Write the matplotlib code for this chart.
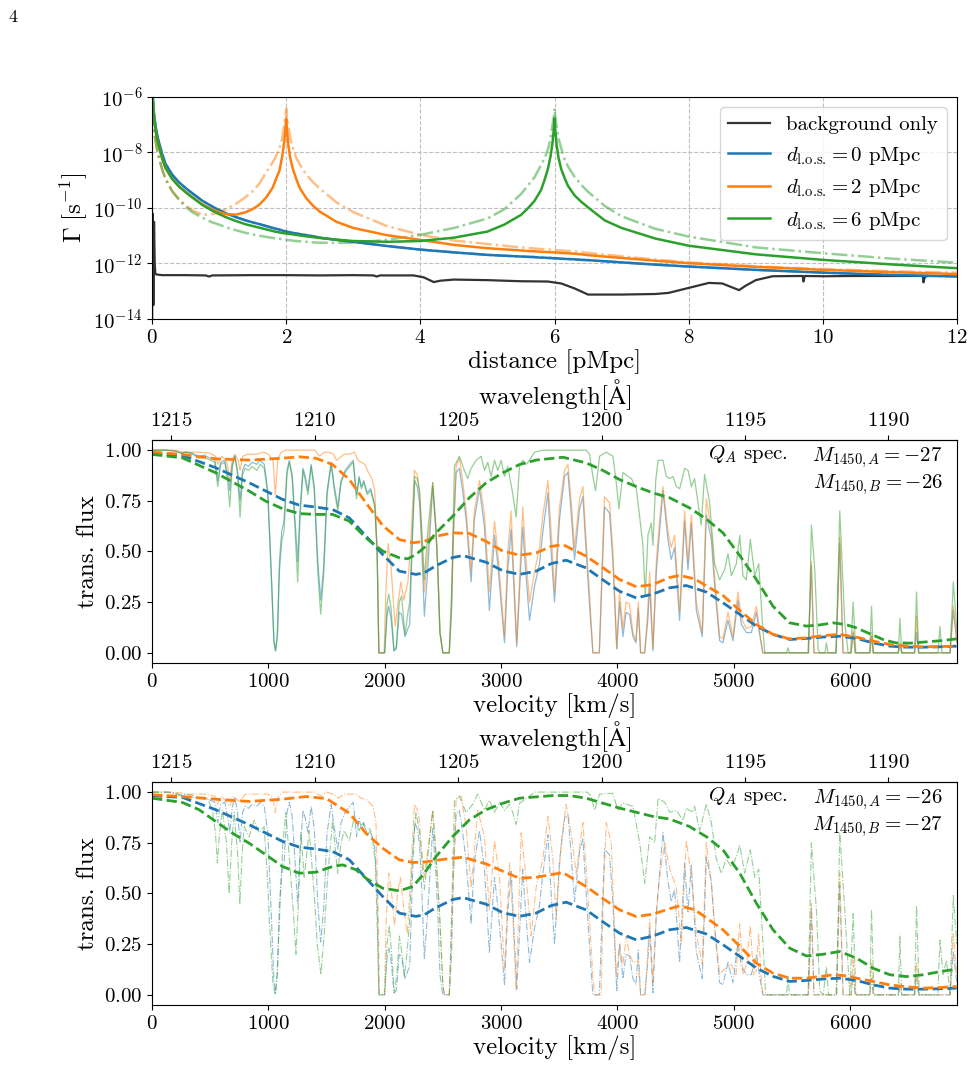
import numpy as np
import matplotlib
matplotlib.use("Agg")
import matplotlib.pyplot as plt
from matplotlib.ticker import NullLocator


# -----------------------------
# Panel 1: photoionisation rate along the sightline (log10 of Gamma)
# -----------------------------
dist = [0.01, 0.02, 0.03, 0.045, 0.06, 0.08, 0.1, 0.15, 0.2, 0.3, 0.4, 0.5, 0.6, 0.75, 0.9,
        1.0, 1.1, 1.25, 1.4, 1.5, 1.6, 1.7, 1.8, 1.85, 1.9, 1.94, 1.97, 1.99, 2.0, 2.01,
        2.03, 2.06, 2.1, 2.15, 2.2, 2.3, 2.4, 2.5, 2.75, 3.0, 3.5, 4.0, 4.5, 5.0, 5.25, 5.5,
        5.6, 5.7, 5.8, 5.85, 5.9, 5.94, 5.97, 5.99, 6.0, 6.01, 6.03, 6.06, 6.1, 6.15, 6.2,
        6.3, 6.4, 6.5, 6.75, 7.0, 7.5, 8.0, 9.0, 10.0, 11.0, 12.0]

log_gamma_d0 = [-5.9, -6.3, -6.6, -6.9, -7.15, -7.4, -7.6, -8.05, -8.4, -8.8, -9.07, -9.28,
                -9.47, -9.74, -9.95, -10.08, -10.19, -10.33, -10.45, -10.52, -10.58, -10.65,
                -10.72, -10.75, -10.78, -10.81, -10.83, -10.84, -10.85, -10.855, -10.865,
                -10.88, -10.9, -10.92, -10.94, -10.98, -11.02, -11.07, -11.15, -11.22, -11.37,
                -11.5, -11.6, -11.69, -11.72, -11.75, -11.76, -11.77, -11.79, -11.79, -11.8,
                -11.8, -11.81, -11.81, -11.81, -11.815, -11.815, -11.82, -11.83, -11.835,
                -11.84, -11.85, -11.87, -11.88, -11.92, -11.96, -12.04, -12.11, -12.23,
                -12.33, -12.41, -12.47]

log_gamma_d2 = [-6.05, -6.45, -6.75, -7.05, -7.3, -7.55, -7.75, -8.2, -8.55, -8.95, -9.22,
                -9.42, -9.61, -9.87, -10.06, -10.15, -10.22, -10.24, -10.15, -10.04, -9.88,
                -9.63, -9.26, -8.95, -8.65, -8.15, -7.65, -7.15, -6.77, -7.15, -7.7, -8.2,
                -8.6, -8.95, -9.27, -9.65, -9.92, -10.13, -10.5, -10.72, -10.98, -11.15,
                -11.33, -11.45, -11.49, -11.53, -11.55, -11.56, -11.58, -11.585, -11.59,
                -11.595, -11.6, -11.6, -11.6, -11.6, -11.605, -11.61, -11.62, -11.625, -11.63,
                -11.65, -11.67, -11.7, -11.75, -11.8, -11.9, -11.99, -12.12, -12.23, -12.31,
                -12.38]

log_gamma_d2_alt = [-6.45, -6.85, -7.15, -7.45, -7.7, -7.95, -8.15, -8.6, -8.95, -9.38, -9.68,
                    -9.9, -10.08, -10.25, -10.22, -10.15, -10.05, -9.85, -9.6, -9.4, -9.12,
                    -8.72, -8.35, -8.12, -7.85, -7.5, -7.0, -6.7, -6.41, -6.7, -7.0, -7.5,
                    -7.85, -8.2, -8.42, -8.8, -9.07, -9.3, -9.8, -10.15, -10.65, -10.97,
                    -11.17, -11.3, -11.36, -11.42, -11.44, -11.46, -11.48, -11.49, -11.5, -11.5,
                    -11.51, -11.51, -11.52, -11.52, -11.52, -11.53, -11.53, -11.54, -11.55,
                    -11.57, -11.59, -11.62, -11.68, -11.74, -11.86, -11.96, -12.1, -12.2,
                    -12.28, -12.33]

log_gamma_d6 = [-6.05, -6.45, -6.75, -7.05, -7.3, -7.55, -7.75, -8.2, -8.55, -8.95, -9.22,
                -9.43, -9.62, -9.89, -10.1, -10.22, -10.33, -10.47, -10.59, -10.65, -10.71,
                -10.77, -10.83, -10.86, -10.88, -10.9, -10.91, -10.92, -10.92, -10.925,
                -10.93, -10.94, -10.95, -10.97, -10.99, -11.02, -11.05, -11.08, -11.14,
                -11.19, -11.22, -11.19, -11.07, -10.85, -10.6, -10.25, -10.02, -9.75, -9.35,
                -9.0, -8.6, -8.15, -7.65, -7.15, -6.77, -7.15, -7.7, -8.2, -8.6, -8.92, -9.2,
                -9.55, -9.78, -9.98, -10.45, -10.72, -11.1, -11.36, -11.67, -11.87, -12.03,
                -12.17]

log_gamma_d6_alt = [-6.45, -6.85, -7.15, -7.45, -7.7, -7.95, -8.15, -8.6, -8.95, -9.4, -9.7,
                    -9.95, -10.15, -10.35, -10.52, -10.6, -10.7, -10.8, -10.9, -10.95, -11.0,
                    -11.04, -11.08, -11.1, -11.11, -11.13, -11.14, -11.14, -11.15, -11.15,
                    -11.155, -11.16, -11.18, -11.19, -11.2, -11.22, -11.24, -11.25, -11.26,
                    -11.25, -11.15, -10.97, -10.72, -10.38, -10.05, -9.5, -9.2, -8.9, -8.45,
                    -8.22, -7.9, -7.5, -7.0, -6.7, -6.41, -6.7, -7.05, -7.5, -7.85, -8.25, -8.5,
                    -8.88, -9.17, -9.42, -9.93, -10.3, -10.75, -11.03, -11.42, -11.63, -11.82,
                    -11.97]

bg_dist = [0.0, 0.01, 0.02, 0.03, 0.04, 0.05, 0.08, 0.15, 0.5, 0.8, 0.85, 0.9, 1.5, 2.0, 2.5,
           3.0, 3.3, 3.35, 3.4, 3.9, 4.05, 4.2, 4.3, 4.5, 5.0, 5.5, 5.9, 6.1, 6.3, 6.5, 7.0,
           7.5, 7.7, 8.0, 8.3, 8.5, 8.75, 8.85, 9.0, 9.25, 9.7, 9.71, 9.73, 10.0, 10.5, 11.0,
           11.49, 11.5, 11.52, 11.55]
log_gamma_bg = [-14.5, -10.2, -13.5, -10.5, -12.0, -12.38, -12.4, -12.42, -12.42, -12.43,
                -12.47, -12.43, -12.42, -12.42, -12.43, -12.42, -12.43, -12.47, -12.43, -12.43,
                -12.5, -12.67, -12.62, -12.58, -12.6, -12.64, -12.65, -12.72, -12.9, -13.12,
                -13.12, -13.1, -13.06, -12.88, -12.7, -12.72, -12.96, -12.8, -12.6, -12.46,
                -12.45, -12.65, -12.45, -12.46, -12.45, -12.45, -12.45, -12.68, -12.48, -12.46]


# -----------------------------
# Panels 2/3: transmitted flux, (velocity [km/s], flux) pairs
# -----------------------------
spec_d0 = [
    (0, 1.0), (120, 1.0), (200, 0.995), (250, 0.985), (290, 0.99), (340, 0.985), (400, 0.97),
    (450, 0.975), (500, 0.96), (540, 0.95), (565, 0.85), (590, 0.94), (625, 0.95), (650, 0.88),
    (668, 0.80), (690, 0.93), (712, 0.97), (735, 0.9), (757, 0.75), (778, 0.9), (800, 0.93),
    (830, 0.92), (860, 0.94), (900, 0.93), (930, 0.95), (965, 0.93), (995, 0.8), (1025, 0.4),
    (1048, 0.06), (1062, 0.01), (1078, 0.1), (1095, 0.45), (1115, 0.6), (1135, 0.65),
    (1160, 0.9), (1180, 0.95), (1205, 0.88), (1230, 0.65), (1252, 0.45), (1272, 0.7),
    (1298, 0.91), (1318, 0.87), (1340, 0.8), (1368, 0.93), (1395, 0.82), (1425, 0.45),
    (1450, 0.26), (1475, 0.42), (1505, 0.8), (1540, 0.94), (1565, 0.83), (1597, 0.72),
    (1625, 0.85), (1660, 0.9), (1700, 0.93), (1730, 0.95), (1758, 0.78), (1780, 0.87),
    (1800, 0.82), (1820, 0.85), (1850, 0.79), (1880, 0.81), (1915, 0.73), (1935, 0.5),
    (1950, 0.0), (2000, 0.0), (2020, 0.18), (2035, 0.23), (2055, 0.17), (2080, 0.01),
    (2100, 0.02), (2125, 0.2), (2145, 0.19), (2175, 0.08), (2200, 0.12), (2215, 0.14),
    (2240, 0.6), (2258, 0.85), (2280, 0.82), (2300, 0.74), (2320, 0.5), (2341, 0.18),
    (2370, 0.41), (2413, 0.82), (2440, 0.6), (2456, 0.41), (2475, 0.1), (2500, 0.0),
    (2555, 0.0), (2575, 0.2), (2590, 0.58), (2614, 0.89), (2642, 0.91), (2670, 0.8),
    (2700, 0.66), (2743, 0.35), (2771, 0.66), (2815, 0.81), (2858, 0.62), (2900, 0.21),
    (2944, 0.58), (2972, 0.44), (3030, 0.05), (3058, 0.41), (3087, 0.61), (3135, 0.03),
    (3187, 0.62), (3210, 0.42), (3245, 0.16), (3288, 0.33), (3331, 0.44), (3360, 0.6),
    (3403, 0.79), (3431, 0.5), (3460, 0.25), (3503, 0.66), (3546, 0.87), (3575, 0.89),
    (3603, 0.69), (3632, 0.46), (3675, 0.71), (3704, 0.77), (3732, 0.5), (3765, 0.2),
    (3790, 0.0), (3845, 0.0), (3870, 0.4), (3890, 0.72), (3933, 0.69), (3962, 0.45),
    (3995, 0.02), (4019, 0.25), (4048, 0.08), (4075, 0.2), (4105, 0.19), (4134, 0.08),
    (4160, 0.05), (4180, 0.22), (4200, 0.0), (4235, 0.0), (4260, 0.15), (4278, 0.33),
    (4306, 0.01), (4335, 0.4), (4363, 0.6), (4392, 0.8), (4435, 0.56), (4463, 0.46),
    (4492, 0.52), (4535, 0.16), (4578, 0.65), (4607, 0.41), (4636, 0.64), (4679, 0.21),
    (4730, 0.08), (4765, 0.68), (4808, 0.56), (4836, 0.33), (4879, 0.06), (4908, 0.05),
    (4951, 0.16), (4994, 0.06), (5037, 0.26), (5066, 0.14), (5109, 0.1), (5152, 0.1),
    (5195, 0.2), (5224, 0.09), (5250, 0.0), (5640, 0.0), (5668, 0.43), (5690, 0.0),
    (5880, 0.0), (5912, 0.54), (5940, 0.0), (6010, 0.0), (6027, 0.1), (6045, 0.0),
    (6170, 0.0), (6185, 0.08), (6200, 0.0), (6415, 0.0), (6429, 0.04), (6445, 0.0),
    (6555, 0.0), (6572, 0.1), (6590, 0.0), (6860, 0.0), (6888, 0.21), (6920, 0.05)]

spec_d2_mid = [
    (0, 1.0), (200, 1.0), (260, 0.99), (400, 0.99), (500, 0.985), (545, 0.97), (565, 0.93),
    (600, 0.97), (640, 0.95), (668, 0.86), (690, 0.95), (712, 0.98), (740, 0.95), (757, 0.9),
    (780, 0.97), (820, 0.98), (900, 0.98), (960, 0.99), (1000, 0.98), (1040, 0.95),
    (1060, 0.78), (1080, 0.95), (1110, 0.99), (1150, 1.0), (1400, 1.0), (1440, 0.97),
    (1480, 0.99), (1520, 0.99), (1560, 0.98), (1585, 0.95), (1610, 0.96), (1650, 0.98),
    (1700, 0.98), (1740, 0.99), (1770, 0.95), (1800, 0.94), (1830, 0.93), (1860, 0.89),
    (1890, 0.86), (1915, 0.8), (1935, 0.5), (1950, 0.0), (1995, 0.0), (2010, 0.3),
    (2030, 0.54), (2055, 0.42), (2090, 0.13), (2115, 0.25), (2140, 0.35), (2165, 0.26),
    (2200, 0.35), (2225, 0.55), (2255, 0.9), (2280, 0.88), (2300, 0.8), (2320, 0.55),
    (2341, 0.3), (2370, 0.5), (2413, 0.84), (2440, 0.62), (2456, 0.45), (2475, 0.1),
    (2500, 0.0), (2555, 0.0), (2575, 0.25), (2595, 0.65), (2614, 0.92), (2642, 0.96),
    (2670, 0.85), (2700, 0.7), (2743, 0.4), (2771, 0.7), (2815, 0.85), (2858, 0.68),
    (2900, 0.3), (2944, 0.65), (2972, 0.5), (3030, 0.08), (3058, 0.5), (3087, 0.7),
    (3135, 0.05), (3187, 0.72), (3210, 0.5), (3245, 0.25), (3288, 0.4), (3331, 0.52),
    (3360, 0.68), (3403, 0.85), (3431, 0.6), (3460, 0.3), (3503, 0.72), (3546, 0.9),
    (3575, 0.93), (3603, 0.75), (3632, 0.52), (3675, 0.76), (3704, 0.82), (3732, 0.55),
    (3765, 0.25), (3790, 0.0), (3845, 0.0), (3870, 0.45), (3890, 0.77), (3933, 0.74),
    (3962, 0.5), (3995, 0.02), (4019, 0.3), (4048, 0.12), (4075, 0.25), (4105, 0.24),
    (4134, 0.1), (4160, 0.06), (4180, 0.25), (4200, 0.0), (4235, 0.0), (4260, 0.2),
    (4278, 0.4), (4306, 0.02), (4335, 0.45), (4363, 0.65), (4392, 0.82), (4435, 0.6),
    (4463, 0.52), (4492, 0.58), (4535, 0.2), (4578, 0.7), (4607, 0.45), (4636, 0.68),
    (4679, 0.25), (4730, 0.1), (4765, 0.76), (4808, 0.6), (4836, 0.38), (4879, 0.08),
    (4908, 0.07), (4951, 0.2), (4994, 0.08), (5037, 0.3), (5066, 0.17), (5109, 0.12),
    (5152, 0.13), (5195, 0.23), (5224, 0.1), (5250, 0.0), (5640, 0.0), (5668, 0.45),
    (5690, 0.0), (5880, 0.0), (5912, 0.57), (5940, 0.0), (6010, 0.0), (6027, 0.11),
    (6045, 0.0), (6170, 0.0), (6185, 0.1), (6200, 0.0), (6415, 0.0), (6429, 0.05),
    (6445, 0.0), (6555, 0.0), (6572, 0.18), (6590, 0.0), (6860, 0.0), (6888, 0.23),
    (6920, 0.05)]

spec_d6_mid = [
    (0, 1.0), (120, 1.0), (200, 0.995), (250, 0.985), (290, 0.99), (340, 0.985), (400, 0.96),
    (450, 0.965), (500, 0.95), (540, 0.94), (565, 0.82), (590, 0.93), (625, 0.94), (650, 0.85),
    (668, 0.72), (690, 0.92), (712, 0.97), (735, 0.88), (757, 0.67), (778, 0.88), (800, 0.91),
    (830, 0.9), (860, 0.92), (900, 0.9), (930, 0.93), (965, 0.91), (995, 0.78), (1025, 0.38),
    (1048, 0.05), (1062, 0.01), (1078, 0.08), (1095, 0.4), (1115, 0.55), (1135, 0.6),
    (1160, 0.88), (1180, 0.94), (1205, 0.86), (1230, 0.6), (1252, 0.35), (1272, 0.66),
    (1298, 0.9), (1318, 0.85), (1340, 0.78), (1368, 0.92), (1395, 0.8), (1425, 0.4),
    (1450, 0.19), (1475, 0.38), (1505, 0.78), (1540, 0.93), (1565, 0.81), (1597, 0.7),
    (1625, 0.84), (1660, 0.89), (1700, 0.92), (1730, 0.94), (1758, 0.76), (1780, 0.86),
    (1800, 0.81), (1820, 0.84), (1850, 0.78), (1880, 0.8), (1915, 0.72), (1935, 0.5),
    (1950, 0.0), (2000, 0.0), (2020, 0.24), (2035, 0.29), (2055, 0.22), (2080, 0.01),
    (2100, 0.03), (2125, 0.25), (2145, 0.28), (2175, 0.09), (2200, 0.2), (2215, 0.25),
    (2240, 0.62), (2258, 0.87), (2280, 0.86), (2300, 0.79), (2320, 0.6), (2341, 0.36),
    (2370, 0.6), (2413, 0.84), (2440, 0.62), (2456, 0.42), (2475, 0.1), (2500, 0.0),
    (2555, 0.0), (2575, 0.3), (2600, 0.92), (2642, 0.97), (2685, 0.9), (2714, 0.86),
    (2743, 0.91), (2786, 0.95), (2829, 0.97), (2858, 0.9), (2886, 0.94), (2915, 0.87),
    (2944, 0.95), (2972, 0.9), (3001, 0.95), (3030, 0.87), (3058, 0.92), (3096, 0.8),
    (3130, 0.67), (3159, 0.92), (3187, 0.95), (3216, 0.93), (3245, 0.95), (3288, 0.99),
    (3360, 1.0), (3732, 1.0), (3761, 0.98), (3790, 0.87), (3813, 0.8), (3847, 0.97),
    (3905, 0.99), (3962, 0.97), (3991, 0.84), (4014, 0.71), (4048, 0.89), (4091, 0.87),
    (4120, 0.86), (4163, 0.81), (4192, 0.67), (4220, 0.53), (4240, 0.28), (4263, 0.58),
    (4292, 0.64), (4306, 0.53), (4330, 0.85), (4350, 0.95), (4392, 0.95), (4421, 0.87),
    (4450, 0.86), (4478, 0.87), (4507, 0.82), (4536, 0.81), (4579, 0.91), (4608, 0.9),
    (4637, 0.82), (4664, 0.86), (4693, 0.74), (4721, 0.63), (4750, 0.88), (4793, 0.74),
    (4836, 0.44), (4879, 0.36), (4922, 0.41), (4951, 0.49), (4980, 0.38), (5023, 0.44),
    (5052, 0.58), (5080, 0.38), (5109, 0.36), (5143, 0.56), (5181, 0.38), (5215, 0.44),
    (5247, 0.15), (5267, 0.0), (5455, 0.0), (5467, 0.025), (5480, 0.0), (5645, 0.0),
    (5668, 0.63), (5697, 0.41), (5726, 0.02), (5740, 0.0), (5785, 0.0), (5797, 0.05),
    (5810, 0.0), (5880, 0.0), (5912, 0.7), (5955, 0.15), (5984, 0.0), (6005, 0.0),
    (6027, 0.25), (6050, 0.0), (6170, 0.0), (6185, 0.23), (6200, 0.0), (6415, 0.0),
    (6429, 0.17), (6445, 0.0), (6555, 0.0), (6572, 0.3), (6590, 0.0), (6755, 0.0),
    (6773, 0.13), (6790, 0.0), (6860, 0.0), (6888, 0.35), (6920, 0.1)]

spec_d2_bot = [
    (0, 1.0), (200, 1.0), (300, 0.99), (450, 0.99), (540, 0.98), (562, 0.94), (600, 0.98),
    (668, 0.93), (700, 0.98), (757, 0.95), (800, 0.99), (1000, 0.99), (1040, 0.97),
    (1059, 0.9), (1080, 0.97), (1120, 1.0), (1400, 1.0), (1450, 0.98), (1500, 1.0),
    (1560, 0.99), (1600, 0.97), (1650, 0.99), (1750, 0.99), (1800, 0.97), (1850, 0.96),
    (1900, 0.93), (1925, 0.85), (1945, 0.4), (1955, 0.0), (1997, 0.0), (2015, 0.4),
    (2035, 0.6), (2060, 0.5), (2085, 0.34), (2110, 0.5), (2135, 0.58), (2165, 0.42),
    (2195, 0.3), (2225, 0.6), (2255, 0.94), (2290, 0.9), (2341, 0.58), (2413, 0.91),
    (2440, 0.7), (2470, 0.42), (2500, 0.05), (2513, 0.0), (2556, 0.0), (2580, 0.4),
    (2614, 0.96), (2657, 0.98), (2700, 0.83), (2743, 0.53), (2800, 0.91), (2858, 0.78),
    (2900, 0.42), (2944, 0.76), (2987, 0.58), (3030, 0.12), (3073, 0.65), (3100, 0.4),
    (3130, 0.02), (3173, 0.8), (3216, 0.58), (3259, 0.29), (3302, 0.53), (3360, 0.67),
    (3403, 0.88), (3446, 0.67), (3474, 0.37), (3517, 0.75), (3560, 0.94), (3603, 0.8),
    (3646, 0.6), (3704, 0.85), (3747, 0.5), (3790, 0.09), (3805, 0.0), (3860, 0.0),
    (3880, 0.5), (3905, 0.85), (3948, 0.75), (3991, 0.09), (4019, 0.25), (4048, 0.15),
    (4077, 0.29), (4105, 0.2), (4134, 0.16), (4177, 0.17), (4200, 0.0), (4240, 0.0),
    (4260, 0.2), (4278, 0.37), (4306, 0.06), (4335, 0.4), (4363, 0.58), (4407, 0.75),
    (4450, 0.62), (4507, 0.53), (4550, 0.25), (4593, 0.76), (4637, 0.58), (4680, 0.3),
    (4730, 0.15), (4765, 0.75), (4808, 0.55), (4836, 0.34), (4880, 0.1), (4908, 0.12),
    (4980, 0.15), (5020, 0.1), (5052, 0.35), (5080, 0.1), (5110, 0.15), (5143, 0.34),
    (5170, 0.1), (5195, 0.12), (5215, 0.3), (5240, 0.05), (5255, 0.0), (5645, 0.0),
    (5668, 0.45), (5690, 0.0), (5885, 0.0), (5912, 0.6), (5940, 0.0), (6010, 0.0),
    (6027, 0.19), (6045, 0.0), (6170, 0.0), (6185, 0.16), (6200, 0.0), (6415, 0.0),
    (6429, 0.06), (6445, 0.0), (6555, 0.0), (6572, 0.16), (6590, 0.0), (6860, 0.0),
    (6888, 0.3), (6920, 0.08)]

spec_d6_bot = [
    (0, 1.0), (150, 1.0), (260, 0.98), (400, 0.97), (480, 0.965), (519, 0.91), (545, 0.8),
    (562, 0.65), (580, 0.8), (605, 0.91), (640, 0.75), (663, 0.5), (685, 0.75), (706, 0.9),
    (735, 0.7), (755, 0.45), (775, 0.7), (792, 0.83), (835, 0.78), (878, 0.86), (921, 0.8),
    (964, 0.83), (990, 0.6), (1010, 0.35), (1040, 0.05), (1059, 0.0), (1075, 0.1),
    (1099, 0.42), (1125, 0.75), (1150, 0.9), (1193, 0.58), (1215, 0.4), (1237, 0.2),
    (1258, 0.45), (1280, 0.8), (1308, 0.58), (1351, 0.81), (1394, 0.5), (1420, 0.25),
    (1452, 0.1), (1480, 0.3), (1509, 0.58), (1552, 0.86), (1595, 0.6), (1625, 0.75),
    (1652, 0.81), (1696, 0.76), (1739, 0.88), (1781, 0.81), (1810, 0.85), (1839, 0.81),
    (1870, 0.82), (1897, 0.76), (1920, 0.65), (1940, 0.25), (1950, 0.0), (2000, 0.0),
    (2020, 0.25), (2040, 0.34), (2060, 0.2), (2083, 0.01), (2105, 0.1), (2126, 0.29),
    (2150, 0.2), (2169, 0.09), (2190, 0.2), (2212, 0.34), (2240, 0.7), (2269, 0.9),
    (2300, 0.8), (2341, 0.52), (2413, 0.91), (2440, 0.7), (2470, 0.42), (2500, 0.05),
    (2513, 0.0), (2556, 0.0), (2580, 0.5), (2600, 0.96), (2642, 0.98), (2700, 0.9),
    (2757, 0.94), (2800, 0.99), (2858, 0.91), (2900, 0.96), (2944, 0.9), (2987, 0.95),
    (3030, 0.91), (3073, 0.94), (3101, 0.9), (3130, 0.84), (3159, 0.945), (3245, 0.98),
    (3290, 1.0), (3740, 1.0), (3776, 0.98), (3804, 0.91), (3847, 0.99), (3960, 0.995),
    (4005, 0.91), (4048, 0.945), (4134, 0.93), (4192, 0.75), (4235, 0.55), (4278, 0.78),
    (4321, 0.75), (4350, 0.97), (4407, 0.95), (4450, 0.9), (4507, 0.91), (4564, 0.86),
    (4593, 0.92), (4650, 0.9), (4664, 0.93), (4707, 0.81), (4765, 0.94), (4808, 0.85),
    (4851, 0.67), (4894, 0.6), (4937, 0.67), (4980, 0.63), (5023, 0.68), (5052, 0.74),
    (5094, 0.6), (5143, 0.715), (5181, 0.58), (5215, 0.62), (5252, 0.255), (5275, 0.0),
    (5455, 0.0), (5467, 0.09), (5480, 0.0), (5640, 0.0), (5668, 0.75), (5711, 0.42),
    (5740, 0.02), (5770, 0.0), (5797, 0.14), (5815, 0.0), (5885, 0.0), (5912, 0.8),
    (5955, 0.42), (5998, 0.0), (6027, 0.4), (6050, 0.0), (6170, 0.0), (6185, 0.42),
    (6205, 0.0), (6415, 0.0), (6429, 0.29), (6445, 0.0), (6555, 0.0), (6572, 0.44),
    (6595, 0.0), (6755, 0.0), (6773, 0.27), (6800, 0.1), (6830, 0.17), (6860, 0.0),
    (6888, 0.49), (6917, 0.25)]

# smoothed spectra (thick dashed)
smooth_d0 = [
    (0, 0.982), (261, 0.974), (548, 0.913), (835, 0.839), (1122, 0.757), (1265, 0.729),
    (1409, 0.719), (1552, 0.707), (1696, 0.666), (1839, 0.576), (1983, 0.485), (2126, 0.403),
    (2269, 0.387), (2341, 0.395), (2441, 0.43), (2585, 0.47), (2671, 0.48), (2872, 0.447),
    (3015, 0.405), (3159, 0.387), (3302, 0.403), (3430, 0.44), (3560, 0.457), (3732, 0.419),
    (3876, 0.36), (4019, 0.304), (4163, 0.271), (4306, 0.29), (4450, 0.321), (4593, 0.332),
    (4765, 0.3), (4908, 0.247), (5052, 0.19), (5195, 0.132), (5338, 0.091), (5482, 0.066),
    (5625, 0.071), (5768, 0.078), (5912, 0.082), (6056, 0.071), (6199, 0.049), (6343, 0.033),
    (6486, 0.028), (6630, 0.028), (6780, 0.03), (6917, 0.033)]

smooth_d2_mid = [
    (0, 0.99), (261, 0.979), (548, 0.957), (835, 0.951), (1122, 0.96), (1265, 0.967),
    (1409, 0.96), (1552, 0.929), (1696, 0.855), (1839, 0.74), (1983, 0.628), (2126, 0.559),
    (2241, 0.543), (2341, 0.55), (2441, 0.575), (2585, 0.592), (2728, 0.589), (2872, 0.55),
    (3015, 0.502), (3159, 0.482), (3302, 0.493), (3430, 0.525), (3532, 0.534), (3732, 0.477),
    (3876, 0.42), (4019, 0.362), (4163, 0.326), (4306, 0.337), (4450, 0.372), (4536, 0.382),
    (4665, 0.365), (4765, 0.33), (4908, 0.283), (5052, 0.21), (5195, 0.14), (5338, 0.091),
    (5482, 0.069), (5625, 0.074), (5768, 0.085), (5912, 0.091), (6056, 0.077), (6199, 0.058),
    (6343, 0.041), (6486, 0.033), (6630, 0.03), (6780, 0.031), (6917, 0.033)]

smooth_d6_mid = [
    (0, 0.979), (261, 0.962), (548, 0.888), (835, 0.798), (978, 0.748), (1122, 0.711),
    (1265, 0.687), (1409, 0.683), (1552, 0.683), (1696, 0.65), (1839, 0.567), (1983, 0.502),
    (2126, 0.469), (2198, 0.464), (2269, 0.485), (2341, 0.52), (2441, 0.592), (2585, 0.674),
    (2728, 0.765), (2872, 0.839), (3015, 0.888), (3159, 0.929), (3302, 0.951), (3532, 0.965),
    (3732, 0.937), (3876, 0.9), (4019, 0.855), (4163, 0.82), (4306, 0.789), (4450, 0.765),
    (4621, 0.715), (4765, 0.66), (4908, 0.592), (5052, 0.48), (5195, 0.362), (5338, 0.23),
    (5482, 0.148), (5625, 0.132), (5740, 0.138), (5855, 0.148), (5960, 0.14), (6056, 0.123),
    (6199, 0.087), (6300, 0.062), (6400, 0.049), (6520, 0.048), (6630, 0.053), (6780, 0.06),
    (6917, 0.069)]

smooth_d2_bot = [
    (0, 0.987), (261, 0.978), (548, 0.965), (835, 0.954), (1122, 0.965), (1323, 0.978),
    (1500, 0.968), (1696, 0.896), (1839, 0.797), (1983, 0.723), (2126, 0.666), (2241, 0.653),
    (2341, 0.655), (2500, 0.668), (2671, 0.679), (2872, 0.646), (3015, 0.61), (3159, 0.575),
    (3302, 0.58), (3532, 0.603), (3732, 0.534), (3876, 0.475), (4019, 0.419), (4163, 0.386),
    (4306, 0.398), (4450, 0.425), (4536, 0.439), (4665, 0.42), (4765, 0.38), (4908, 0.321),
    (5052, 0.24), (5195, 0.156), (5338, 0.107), (5482, 0.082), (5625, 0.082), (5768, 0.092),
    (5855, 0.099), (5960, 0.094), (6056, 0.082), (6199, 0.066), (6343, 0.049), (6486, 0.04),
    (6630, 0.033), (6780, 0.036), (6917, 0.041)]

smooth_d6_bot = [
    (0, 0.97), (261, 0.949), (405, 0.913), (548, 0.855), (692, 0.797), (835, 0.748),
    (978, 0.691), (1122, 0.633), (1265, 0.6), (1409, 0.605), (1552, 0.633), (1638, 0.641),
    (1753, 0.617), (1839, 0.575), (1983, 0.526), (2126, 0.513), (2241, 0.534), (2341, 0.6),
    (2441, 0.682), (2585, 0.781), (2728, 0.863), (2872, 0.913), (3015, 0.945), (3159, 0.97),
    (3446, 0.983), (3589, 0.983), (3732, 0.97), (4019, 0.921), (4306, 0.88), (4450, 0.867),
    (4621, 0.83), (4765, 0.78), (4908, 0.715), (5052, 0.6), (5195, 0.452), (5338, 0.321),
    (5482, 0.23), (5625, 0.192), (5768, 0.2), (5912, 0.214), (6056, 0.181), (6199, 0.131),
    (6343, 0.099), (6486, 0.09), (6630, 0.099), (6780, 0.115), (6917, 0.127)]

legend_labels = ["background only",
                 r"$d_{\text{l.o.s.}} = 0$ pMpc",
                 r"$d_{\text{l.o.s.}} = 2$ pMpc",
                 r"$d_{\text{l.o.s.}} = 6$ pMpc"]
panel_mags = [(-27, -26), (-26, -27)]
wave_ticks = [1215, 1210, 1205, 1200, 1195, 1190]

V_MAX = 6920.0
LYA = 1215.67
C_KMS = 299792.458


def v2lam(v):
    return LYA * (1.0 - np.asarray(v, dtype=float) / C_KMS)


def lam2v(lam):
    return C_KMS * (1.0 - np.asarray(lam, dtype=float) / LYA)


def xy(pairs):
    a = np.array(pairs, dtype=float)
    return a[:, 0], a[:, 1]


# -----------------------------
# Style
# -----------------------------
plt.rcParams.update({
    "font.family": "serif",
    "font.serif": ["cmr10"],
    "mathtext.fontset": "cm",
    "axes.formatter.use_mathtext": True,
    "font.size": 15,
})

C_BLUE, C_ORANGE, C_GREEN = "#1f77b4", "#ff7f0e", "#2ca02c"
LABEL_FS = 18
TICK_FS = 15

fig = plt.figure(figsize=(9.72, 10.69), dpi=100)
fig.text(8 / 972, 1 - 17 / 1069, "4", fontsize=13, va="center", ha="left")

# -----------------------------
# Chart 1: Gamma vs distance
# -----------------------------
ax1 = fig.add_axes([0.1564, 0.7016, 0.8282, 0.2077])
d = np.array(dist)
ax1.plot(bg_dist, 10 ** np.array(log_gamma_bg), color="#333333", lw=1.6, label=legend_labels[0])
ax1.plot(d, 10 ** np.array(log_gamma_d0), color=C_BLUE, lw=1.8, ls="-.", alpha=0.5)
ax1.plot(d, 10 ** np.array(log_gamma_d2_alt), color=C_ORANGE, lw=1.8, ls="-.", alpha=0.5)
ax1.plot(d, 10 ** np.array(log_gamma_d6_alt), color=C_GREEN, lw=1.8, ls="-.", alpha=0.5)
ax1.plot(d, 10 ** np.array(log_gamma_d0), color=C_BLUE, lw=1.8, label=legend_labels[1])
ax1.plot(d, 10 ** np.array(log_gamma_d2), color=C_ORANGE, lw=1.8, label=legend_labels[2])
ax1.plot(d, 10 ** np.array(log_gamma_d6), color=C_GREEN, lw=1.8, label=legend_labels[3])
ax1.set_yscale("log")
ax1.set_xlim(0, 12)
ax1.set_ylim(1e-14, 1e-6)
ax1.set_yticks([1e-14, 1e-12, 1e-10, 1e-8, 1e-6])
ax1.yaxis.set_minor_locator(NullLocator())
ax1.set_xticks([0, 2, 4, 6, 8, 10, 12])
ax1.tick_params(labelsize=TICK_FS)
ax1.grid(True, ls="--", color="0.75", lw=0.8)
ax1.set_xlabel("distance [pMpc]", fontsize=LABEL_FS, labelpad=2)
ax1.set_ylabel(r"$\Gamma\ [{\rm s}^{-1}]$", fontsize=LABEL_FS, labelpad=2)
ax1.legend(loc="upper right", fontsize=TICK_FS, handlelength=2.0)

# -----------------------------
# Charts 2 and 3: transmitted flux
# -----------------------------
panels = [
    (0.3798, spec_d2_mid, spec_d6_mid, smooth_d2_mid, smooth_d6_mid, "-", 0.9),
    (0.0599, spec_d2_bot, spec_d6_bot, smooth_d2_bot, smooth_d6_bot, "-.", 0.8),
]
for (bottom, s2, s6, m2, m6, ls, lw), mags in zip(panels, panel_mags):
    ax = fig.add_axes([0.1564, bottom, 0.8282, 0.2086])
    for spec, col in [(spec_d0, C_BLUE), (s2, C_ORANGE), (s6, C_GREEN)]:
        v, f = xy(spec)
        ax.plot(v, f, color=col, lw=lw, ls=ls, alpha=0.5)
    for spec, col in [(smooth_d0, C_BLUE), (m2, C_ORANGE), (m6, C_GREEN)]:
        v, f = xy(spec)
        ax.plot(v, f, color=col, lw=2.0, ls="--")
    ax.set_xlim(0, V_MAX)
    ax.set_ylim(-0.05, 1.05)
    ax.set_yticks([0.0, 0.25, 0.5, 0.75, 1.0])
    ax.set_xticks([0, 1000, 2000, 3000, 4000, 5000, 6000])
    ax.tick_params(labelsize=TICK_FS)
    ax.set_xlabel("velocity [km/s]", fontsize=LABEL_FS, labelpad=2)
    ax.set_ylabel("trans. flux", fontsize=LABEL_FS, labelpad=4)

    top = ax.secondary_xaxis("top", functions=(v2lam, lam2v))
    top.set_xticks(wave_ticks)
    top.tick_params(labelsize=TICK_FS)
    top.set_xlabel(r"wavelength$[\mathrm{\AA}]$", fontsize=LABEL_FS, labelpad=6)

    ax.text(0.74, 0.935, r"$Q_A$ spec.", transform=ax.transAxes, fontsize=TICK_FS,
            ha="center", va="center")
    ax.text(0.982, 0.975,
            r"$M_{1450,A} = %d$" % mags[0] + "\n" + r"$M_{1450,B} = %d$" % mags[1],
            transform=ax.transAxes, fontsize=TICK_FS, ha="right", va="top",
            linespacing=1.1)

fig.savefig("out.png", dpi=100)
